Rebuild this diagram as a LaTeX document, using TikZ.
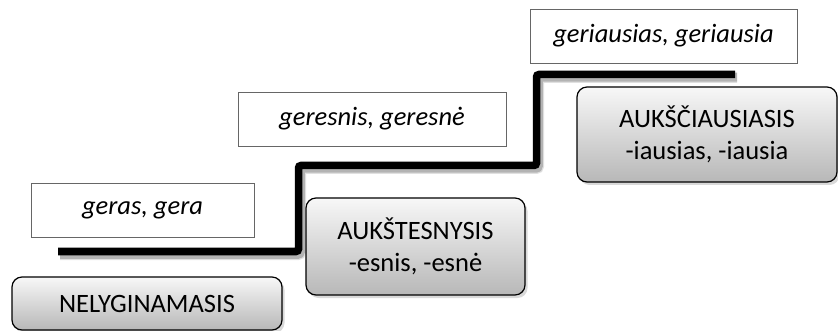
\documentclass[tikz,border=0pt]{standalone}
\usepackage{fontspec}
\setmainfont{Carlito}
\usepackage{tikz}
\usetikzlibrary{shadows}

\begin{document}
\begin{tikzpicture}[x=1pt,y=-1pt,semithick,
    form/.style={draw=black!60,thin,fill=white,minimum height=54pt,inner sep=0pt,
      font=\fontsize{26.5}{32}\selectfont\itshape},
    degree/.style={draw=black,line width=1.2pt,rounded corners=10pt,top color=black!3,
      bottom color=black!28,align=center,inner sep=0pt,font=\fontsize{26.5}{32}\selectfont,
      drop shadow={shadow xshift=2.5pt,shadow yshift=-3pt,opacity=0.3}},
    stair/.style={line width=7.5pt,rounded corners=2.5pt}]
  \useasboundingbox (0,0) rectangle (838,331);

  \node[form,minimum width=223pt] (a) at (142.5,210) {geras, gera};
  \node[form,minimum width=268pt] (b) at (372,119)   {geresnis, geresnė};
  \node[form,minimum width=267pt] (c) at (663.5,36)  {geriausias, geriausia};

  \node[degree,minimum width=270pt,minimum height=53pt] (A) at (147,303.5) {NELYGINAMASIS};
  \node[degree,minimum width=219pt,minimum height=97pt] (B) at (415.5,246.5) {AUKŠTESNYSIS\\-esnis, -esnė};
  \node[degree,minimum width=260pt,minimum height=95pt] (C) at (707,134.5) {AUKŠČIAUSIASIS\\-iausias, -iausia};

  % the steps
  \coordinate (s0) at (58,251.5);
  \coordinate (s1) at (298.5,251.5);
  \coordinate (s2) at (298.5,165.5);
  \coordinate (s3) at (536.5,165.5);
  \coordinate (s4) at (536.5,74.5);
  \coordinate (s5) at (735,74.5);

  \draw[stair,line width=11pt,black,opacity=0.12,transform canvas={shift={(2pt,-3pt)}}]
    (s0) -- (s1) -- (s2) -- (s3) -- (s4) -- (s5);
  \draw[stair,line width=8.5pt,black,opacity=0.2,transform canvas={shift={(2pt,-3pt)}}]
    (s0) -- (s1) -- (s2) -- (s3) -- (s4) -- (s5);
  \draw[stair] (s0) -- (s1) -- (s2) -- (s3) -- (s4) -- (s5);
\end{tikzpicture}
\end{document}
